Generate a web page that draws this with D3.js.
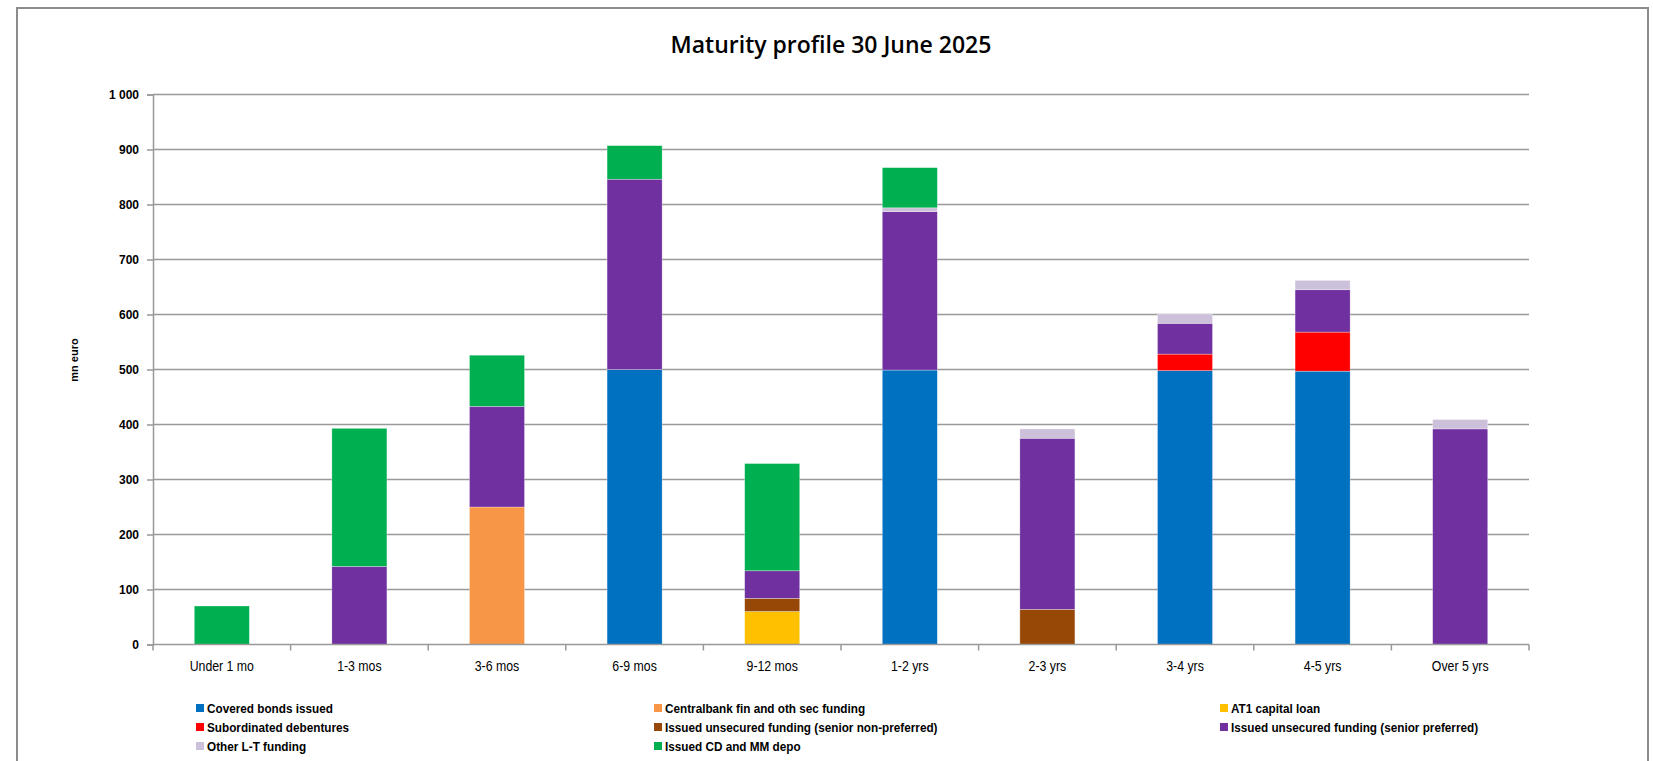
<!DOCTYPE html>
<html>
<head>
<meta charset="utf-8">
<script src="https://cdn.jsdelivr.net/npm/d3@7"></script>
<style>
  html, body { margin: 0; padding: 0; background: #fff; }
  svg { display: block; }
</style>
</head>
<body>
<svg id="chart" width="1653" height="761"></svg>
<script>
// Maturity buckets
const categories = ["Under 1 mo", "1-3 mos", "3-6 mos", "6-9 mos", "9-12 mos",
                    "1-2 yrs", "2-3 yrs", "3-4 yrs", "4-5 yrs", "Over 5 yrs"];

// Funding sources, mn euro per bucket (stacked bottom to top in this order)
const coveredBonds      = [0, 0, 0, 500, 0, 499, 0, 498, 497, 0];
const centralbankFin    = [0, 0, 250, 0, 0, 0, 0, 0, 0, 0];
const at1CapitalLoan    = [0, 0, 0, 0, 60, 0, 0, 0, 0, 0];
const subordinatedDeb   = [0, 0, 0, 0, 0, 0, 0, 30, 71, 0];
const seniorNonPref     = [0, 0, 0, 0, 24, 0, 64, 0, 0, 0];
const seniorPreferred   = [0, 142, 183, 346, 50, 288, 311, 56, 77, 392];
const otherLTFunding    = [0, 0, 0, 0, 0, 7, 17, 17, 17, 17];
const issuedCDandMM     = [70, 251, 93, 61, 195, 73, 0, 0, 0, 0];

const seriesNames = [
  "Covered bonds issued",
  "Centralbank fin and oth sec funding",
  "AT1 capital loan",
  "Subordinated debentures",
  "Issued unsecured funding (senior non-preferred)",
  "Issued unsecured funding (senior preferred)",
  "Other L-T funding",
  "Issued CD and MM depo"
];
const seriesValues = [coveredBonds, centralbankFin, at1CapitalLoan, subordinatedDeb,
                      seniorNonPref, seniorPreferred, otherLTFunding, issuedCDandMM];
const seriesColors = ["#0070C0", "#F79646", "#FFC000", "#FF0000",
                      "#974806", "#7030A0", "#CCC0DA", "#00B050"];

const yTicks = [0, 100, 200, 300, 400, 500, 600, 700, 800, 900, 1000];
const yTickLabels = ["0", "100", "200", "300", "400", "500", "600", "700", "800", "900", "1 000"];

const svg = d3.select("#chart");
const plot = { left: 153, right: 1529, top: 94.5, bottom: 644.5 };

// Outer frame
svg.append("rect")
  .attr("x", 17).attr("y", 8).attr("width", 1631).attr("height", 770)
  .attr("fill", "#fff").attr("stroke", "#8c8c8c").attr("stroke-width", 2);

// Title
svg.append("text")
  .attr("x", 831).attr("y", 53)
  .attr("text-anchor", "middle")
  .attr("font-family", "'Open Sans', 'Noto Sans', sans-serif")
  .attr("font-size", 23)
  .attr("font-weight", 600)
  .attr("fill", "#000")
  .text("Maturity profile 30 June 2025");

// Scales
const x = d3.scaleBand().domain(categories).range([plot.left, plot.right])
  .paddingInner(0.6).paddingOuter(0.3);
const y = d3.scaleLinear().domain([0, 1000]).range([plot.bottom, plot.top]);

// Gridlines
svg.append("g")
  .selectAll("line")
  .data(yTicks.filter(d => d > 0))
  .join("line")
  .attr("x1", plot.left).attr("x2", plot.right)
  .attr("y1", d => y(d)).attr("y2", d => y(d))
  .attr("stroke", "#999").attr("stroke-width", 1.5);

// Stacked data
const rows = categories.map((c, i) => {
  const r = { cat: c };
  seriesNames.forEach((n, k) => { r[n] = seriesValues[k][i]; });
  return r;
});
const stack = d3.stack().keys(seriesNames)(rows);

svg.append("g")
  .selectAll("g")
  .data(stack)
  .join("g")
  .attr("fill", (d, i) => seriesColors[i])
  .selectAll("rect")
  .data(d => d.filter(p => p[1] - p[0] > 0))
  .join("rect")
  .attr("x", d => x(d.data.cat))
  .attr("width", x.bandwidth())
  .attr("y", d => y(d[1]))
  .attr("height", d => y(d[0]) - y(d[1]))
  .attr("stroke", "rgba(255,255,255,0.5)")
  .attr("stroke-width", 0.6);

// Y axis
const yAxis = d3.axisLeft(y)
  .tickValues(yTicks)
  .tickFormat((d, i) => yTickLabels[i])
  .tickSize(6)
  .tickPadding(8);
const gy = svg.append("g").attr("transform", `translate(${plot.left},0)`).call(yAxis);
gy.select(".domain").attr("stroke", "#999").attr("stroke-width", 1.5);
gy.selectAll(".tick line").attr("stroke", "#999").attr("stroke-width", 1.5);
gy.selectAll(".tick text")
  .attr("font-family", "'Liberation Sans', Arial, sans-serif")
  .attr("font-size", 12).attr("font-weight", "bold").attr("fill", "#000");

// X axis: baseline, ticks at band boundaries, centred condensed labels
const gx = svg.append("g");
gx.append("line")
  .attr("x1", plot.left).attr("x2", plot.right)
  .attr("y1", plot.bottom).attr("y2", plot.bottom)
  .attr("stroke", "#999").attr("stroke-width", 1.5);
const step = x.step();
const boundaries = d3.range(categories.length + 1).map(i => plot.left + i * step);
gx.selectAll("line.tk")
  .data(boundaries)
  .join("line")
  .attr("class", "tk")
  .attr("x1", d => d).attr("x2", d => d)
  .attr("y1", plot.bottom).attr("y2", plot.bottom + 6)
  .attr("stroke", "#999").attr("stroke-width", 1.5);
gx.selectAll("text")
  .data(categories)
  .join("text")
  .attr("transform", d => `translate(${x(d) + x.bandwidth() / 2},671) scale(0.88,1)`)
  .attr("text-anchor", "middle")
  .attr("font-family", "'Liberation Sans', Arial, sans-serif")
  .attr("font-size", 14)
  .attr("fill", "#000")
  .text(d => d);

// Y axis title
svg.append("text")
  .attr("transform", "translate(78,360) rotate(-90)")
  .attr("text-anchor", "middle")
  .attr("font-family", "'Liberation Sans', Arial, sans-serif")
  .attr("font-size", 11).attr("font-weight", "bold")
  .attr("fill", "#000")
  .text("mn euro");

// Legend: three columns, row-major
const legendCols = [196, 654, 1220];
const legendRows = [708, 727, 746];
const legend = svg.append("g");
seriesNames.forEach((name, i) => {
  const cx = legendCols[i % 3];
  const cy = legendRows[Math.floor(i / 3)];
  legend.append("rect")
    .attr("x", cx).attr("y", cy - 4)
    .attr("width", 8).attr("height", 8)
    .attr("fill", seriesColors[i]);
  legend.append("text")
    .attr("transform", `translate(${cx + 11},${cy + 4.5}) scale(0.87,1)`)
    .attr("font-family", "'Liberation Sans', Arial, sans-serif")
    .attr("font-size", 13.5).attr("font-weight", "bold")
    .attr("fill", "#000")
    .text(name);
});
</script>
</body>
</html>
